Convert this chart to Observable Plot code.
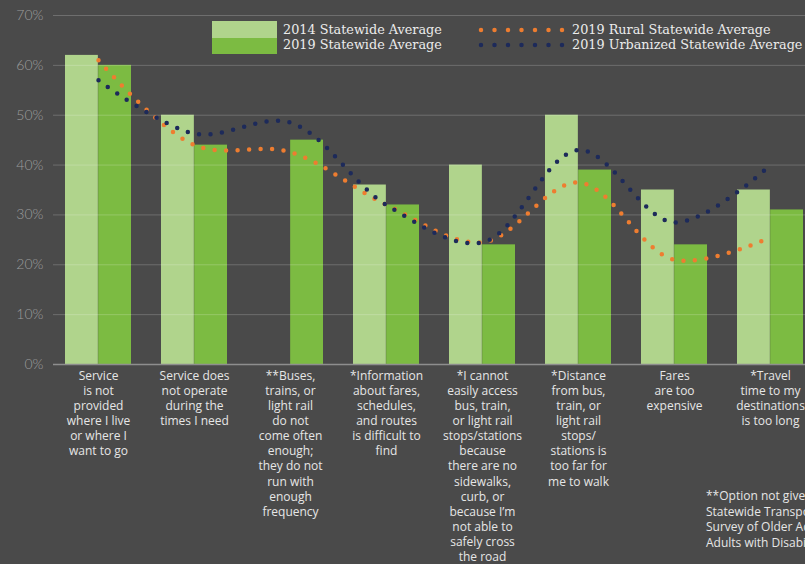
<!DOCTYPE html>
<html>
<head>
<meta charset="utf-8">
<script src="https://cdn.jsdelivr.net/npm/d3@7"></script>
<script src="https://cdn.jsdelivr.net/npm/@observablehq/plot@0.6"></script>
<style>
html,body{margin:0;padding:0;background:#4a4a4a;overflow:hidden;width:805px;height:564px}
#wrap{position:relative;width:805px;height:564px;overflow:hidden}
#chart{position:absolute;left:0;top:0}
.leg{position:absolute;font-family:"DejaVu Serif",serif;font-size:12.8px;color:#ececec;white-space:nowrap;line-height:15px}
.sw{position:absolute;left:212px;width:65px;height:16.5px}
.note{position:absolute;left:706px;top:488px;font-family:"Open Sans",sans-serif;font-size:12px;line-height:15.5px;color:#e6e6e6;white-space:nowrap}
</style>
</head>
<body>
<div id="wrap">
  <div id="chart"></div>
  <div class="sw" style="top:21px;background:#b0d48c"></div>
  <div class="sw" style="top:37.5px;background:#7cbb42"></div>
  <div class="leg" style="left:283px;top:22px">2014 Statewide Average</div>
  <div class="leg" style="left:283px;top:37px">2019 Statewide Average</div>
  <svg style="position:absolute;left:476px;top:24px" width="92" height="28">
    <line x1="5" x2="87" y1="6" y2="6" stroke="#ee7d30" stroke-width="4.5" stroke-linecap="round" stroke-dasharray="0 13.5"/>
    <line x1="5" x2="87" y1="21" y2="21" stroke="#1d2a5a" stroke-width="4.5" stroke-linecap="round" stroke-dasharray="0 13.5"/>
  </svg>
  <div class="leg" style="left:572px;top:22px">2019 Rural Statewide Average</div>
  <div class="leg" style="left:572px;top:37px">2019 Urbanized Statewide Average</div>
  <div class="note">**Option not given in 2014<br>Statewide Transportation<br>Survey of Older Adults and<br>Adults with Disabilities</div>
</div>
<script>
const categories = [
  "Service\nis not\nprovided\nwhere I live\nor where I\nwant to go",
  "Service does\nnot operate\nduring the\ntimes I need",
  "**Buses,\ntrains, or\nlight rail\ndo not\ncome often\nenough;\nthey do not\nrun with\nenough\nfrequency",
  "*Information\nabout fares,\nschedules,\nand routes\nis difficult to\nfind",
  "*I cannot\neasily access\nbus, train,\nor light rail\nstops/stations\nbecause\nthere are no\nsidewalks,\ncurb, or\nbecause I’m\nnot able to\nsafely cross\nthe road",
  "*Distance\nfrom bus,\ntrain, or\nlight rail\nstops/\nstations is\ntoo far for\nme to walk",
  "Fares\nare too\nexpensive",
  "*Travel\ntime to my\ndestinations\nis too long"
];
const avg2014 = [62, 50, null, 36, 40, 50, 35, 35];
const avg2019 = [60, 44, 45, 32, 24, 39, 24, 31];
const rural2019 = [61, 44, 42.6, 32, 24.5, 36.5, 21, 25.5];
const urban2019 = [57, 46.3, 48.5, 32, 24.5, 43, 28.5, 40];
const yTicks = [0, 10, 20, 30, 40, 50, 60, 70];

const idx = categories.map((_, i) => i);
const idx2014 = idx.filter(i => avg2014[i] != null);

const chart = Plot.plot({
  width: 805,
  height: 564,
  marginLeft: 53,
  marginRight: 0,
  marginTop: 15,
  marginBottom: 200,
  style: {background: "transparent", color: "#9d9d9d", overflow: "visible"},
  x: {domain: categories, range: [49.3, 819.6], padding: 0, axis: null},
  y: {domain: [0, 70], axis: null},
  marks: [
    Plot.barY(idx2014, {x: i => categories[i], y: i => avg2014[i], fill: "#b0d48c", insetLeft: 15, insetRight: 48.15}),
    Plot.barY(idx, {x: i => categories[i], y: i => avg2019[i], fill: "#7cbb42", insetLeft: 48.15, insetRight: 15}),
    Plot.ruleY(yTicks.filter(d => d > 0), {y: d => d, stroke: "#ffffff", strokeOpacity: 0.2, strokeWidth: 1}),
    Plot.ruleY([0], {stroke: "#8e8e8e", strokeWidth: 1.5}),
    Plot.line(idx, {x: i => categories[i], y: i => rural2019[i], curve: "catmull-rom", stroke: "#ee7d30", strokeWidth: 4.5, strokeLinecap: "round", strokeDasharray: "0 11.5"}),
    Plot.line(idx, {x: i => categories[i], y: i => urban2019[i], curve: "catmull-rom", stroke: "#1d2a5a", strokeWidth: 4.5, strokeLinecap: "round", strokeDasharray: "0 11.5"}),
    Plot.text(yTicks, {y: d => d, text: d => d + "%", frameAnchor: "left", textAnchor: "end", dx: -10, fill: "#9d9d9d", fontSize: 14, fontFamily: "Lato", fontWeight: 300}),
    Plot.text(categories, {x: d => d, text: d => d, frameAnchor: "bottom", lineAnchor: "top", dy: 4.5, fontSize: 12, lineHeight: 1.26, fill: "#e6e6e6", fontFamily: "Open Sans"})
  ]
});
document.getElementById("chart").appendChild(chart);
</script>
</body>
</html>
